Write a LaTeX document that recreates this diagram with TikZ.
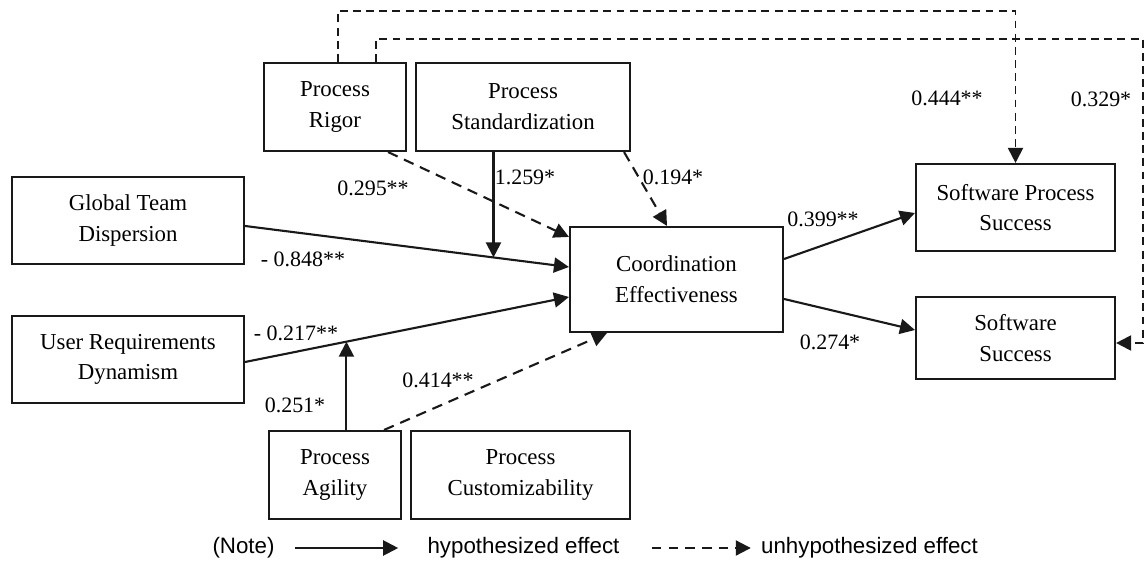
\documentclass[tikz,border=0pt]{standalone}
\usepackage{fontspec}
\setmainfont{Liberation Serif}
\setsansfont{Liberation Sans}
\usepackage{tikz}
\usetikzlibrary{arrows.meta,positioning,calc}

\newcommand{\varfont}{\fontsize{13}{17.5}\selectfont}
\tikzset{
  varbox/.style={
    rectangle, draw=black!90, line width=1.2pt, fill=white,
    align=center, font=\varfont, inner sep=0pt
  },
  hypo/.style={->, line width=1.2pt, black!90},
  unhypo/.style={->, line width=1.2pt, black!90, dash pattern=on 6pt off 4pt},
  toppath/.style={unhypo, line width=1.1pt, dash pattern=on 4.5pt off 3pt},
  coef/.style={font=\fontsize{12.5}{14}\selectfont, inner sep=0pt},
  legtext/.style={font=\sffamily\fontsize{12.7}{15}\selectfont, inner sep=0pt}
}

\begin{document}
\begin{tikzpicture}[>={Triangle[length=3mm,width=3mm]}]
  \useasboundingbox (0,0) rectangle (22.9,-11.24);

  % Process variables (top and bottom)
  \node[varbox, minimum width=2.84cm, minimum height=1.76cm] (rigor) at (6.70,-2.14) {Process\\Rigor};
  \node[varbox, minimum width=4.28cm, minimum height=1.76cm] (stand) at (10.46,-2.14) {Process\\Standardization};
  \node[varbox, minimum width=2.64cm, minimum height=1.76cm] (agil)  at (6.70,-9.50) {Process\\Agility};
  \node[varbox, minimum width=4.38cm, minimum height=1.76cm] (cust)  at (10.41,-9.50) {Process\\Customizability};

  % Antecedents
  \node[varbox, minimum width=4.64cm, minimum height=1.74cm] (gtd) at (2.56,-4.41) {Global Team\\Dispersion};
  \node[varbox, minimum width=4.64cm, minimum height=1.74cm] (urd) at (2.56,-7.19) {User Requirements\\Dynamism};

  % Mediator and outcomes
  \node[varbox, minimum width=4.26cm, minimum height=2.10cm] (coord) at (13.53,-5.59) {Coordination\\Effectiveness};
  \node[varbox, minimum width=3.98cm, minimum height=1.74cm] (sps) at (20.31,-4.15) {Software Process\\Success};
  \node[varbox, minimum width=3.98cm, minimum height=1.64cm] (ss)  at (20.31,-6.76) {Software\\Success};

  % Main paths
  \draw[hypo] ([yshift=-1.1mm]gtd.east) -- coordinate[pos=0.767] (gmid) ([yshift=2.5mm]coord.west);
  \draw[hypo] ([yshift=-0.5mm]urd.east) -- coordinate[pos=0.313] (umid) ([yshift=-3.5mm]coord.west);
  \draw[hypo] ([yshift=4.1mm]coord.east) -- ([yshift=-1.1mm]sps.west);
  \draw[hypo] ([yshift=-3.9mm]coord.east) -- ([yshift=1.6mm]ss.west);

  % Moderating effects
  \draw[hypo] (stand.south -| gmid) -- (gmid);
  \draw[hypo] (agil.north -| umid) -- (umid);

  % Unhypothesized effects
  \draw[unhypo] ([xshift=-3.8mm]rigor.south east) -- ([yshift=-2.2mm]coord.north west);
  \draw[unhypo] ([xshift=-1.4mm]stand.south east) -- ([xshift=-1.9mm]coord.north);
  \draw[unhypo] ([xshift=-3.6mm]agil.north east) -- ([xshift=7.6mm]coord.south west);
  \draw[toppath] ([xshift=0.6mm]rigor.north) -- ++(0,1.02) -| (sps.north);
  \draw[toppath] ([xshift=8.2mm]rigor.north) -- ++(0,0.46) -- ++(15.34,0) |- ([yshift=-1mm]ss.east);

  % Coefficients
  \node[coef] (c1)  at (7.46,-3.76)  {0.295**};
  \node[coef] (c2)  at (10.50,-3.54) {1.259*};
  \node[coef] (c3)  at (13.46,-3.54) {0.194*};
  \node[coef] (c4)  at (6.06,-5.18)  {- 0.848**};
  \node[coef] (c5)  at (5.92,-6.66)  {- 0.217**};
  \node[coef] (c6)  at (8.76,-7.60)  {0.414**};
  \node[coef] (c7)  at (5.90,-8.10)  {0.251*};
  \node[coef] (c8)  at (16.46,-4.38) {0.399**};
  \node[coef] (c9)  at (16.60,-6.84) {0.274*};
  \node[coef] (c10) at (18.94,-1.96) {0.444**};
  \node[coef] (c11) at (22.02,-1.98) {0.329*};

  % Legend
  \node[legtext] (note)     at (4.87,-10.96)  {(Note)};
  \node[legtext] (hyptxt)   at (10.47,-10.96) {hypothesized effect};
  \node[legtext] (unhyptxt) at (17.39,-10.96) {unhypothesized effect};
  \draw[hypo] ([xshift=4mm]note.east) -- ([xshift=-5.8mm]hyptxt.west);
  \draw[unhypo, dash pattern=on 5.5pt off 4pt] ([xshift=6.4mm]hyptxt.east) -- ([xshift=-2mm]unhyptxt.west);
\end{tikzpicture}
\end{document}
